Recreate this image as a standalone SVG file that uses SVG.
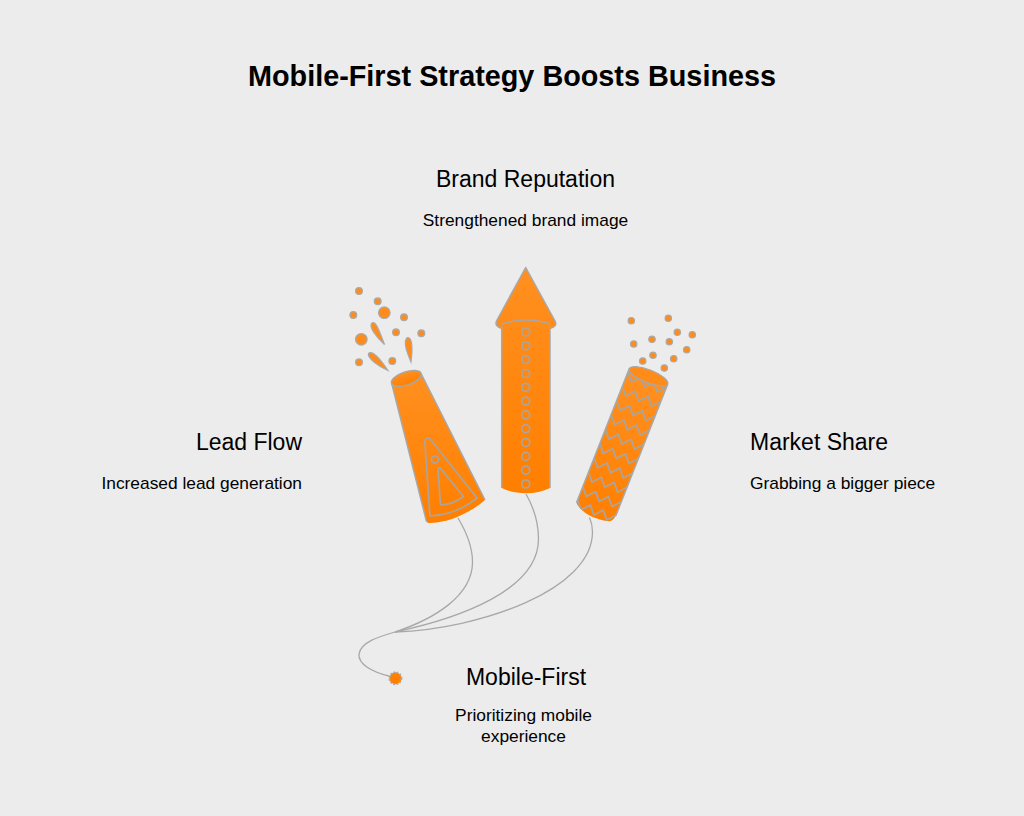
<svg xmlns="http://www.w3.org/2000/svg" xmlns:xlink="http://www.w3.org/1999/xlink" width="1024" height="816" viewBox="0 0 1024 816">
<style>
text{font-family:"Liberation Sans",Arial,sans-serif;fill:#000}
.title{font-size:28.8px;font-weight:700}
.h{font-size:23px}
.s{font-size:17.35px}
.m{text-anchor:middle}
.e{text-anchor:end}
.fill{fill:url(#g);stroke:none}
.fillc{fill:url(#gc);stroke:none}
.line{fill:none;stroke:#aaa59f;stroke-width:1.7;stroke-linejoin:round}
.side{fill:none;stroke:#a8a8a8;stroke-width:1.5;stroke-linejoin:round}
.dot{fill:#ff8c1a;stroke:#aaa;stroke-width:1.2}
.wire{fill:none;stroke:#a8a8a8;stroke-width:1.3}
</style>
<defs>
<linearGradient id="g" x1="0" y1="0" x2="0" y2="1"><stop offset="0" stop-color="#ff9020"/><stop offset="1" stop-color="#ff7f00"/></linearGradient>
<linearGradient id="gc" gradientUnits="userSpaceOnUse" x1="0" y1="267" x2="0" y2="493"><stop offset="0" stop-color="#ff9020"/><stop offset="1" stop-color="#ff7f00"/></linearGradient>
<polyline id="z" class="line" points="-20.7,-4 -13.8,4 -6.9,-4 0,4 6.9,-4 13.8,4 20.7,-4"/>
<clipPath id="rb"><path d="M-20.7 0L20.7 0L20.7 142Q20 149 14 150C0 153 -14 151 -20.7 144Z"/></clipPath>
</defs>
<rect width="1024" height="816" fill="#ececec"/>
<text class="title m" x="512" y="85.5">Mobile-First Strategy Boosts Business</text>
<g id="connectors">
<path class="wire" d="M389 676C372 672 358 664 359 654C361 642 378 637 395 632"/>
<path class="wire" d="M458 518C467 533 472.5 548 472.5 562C472.5 596 434 619 395 632"/>
<path class="wire" d="M526 494C534 508 538.5 524 538.5 539C538.5 590 460 618 395 632"/>
<path class="wire" d="M589.5 517.5C591.5 522 592.5 527 592.5 532C592.5 590 480 629 395 632"/>
</g>
<g id="lead-flow">
<path class="fill" d="M391.7 383.5L421 373.5L485 500C470 513 450 522 431 523Q427 523 426.5 521.5Z"/>
<path class="side" d="M391.7 383.5L426.5 521.5M421 373.5L485 500"/>
<ellipse class="fill" cx="406.3" cy="378.4" rx="15.6" ry="6.6" transform="rotate(-18.5 406.3 378.4)"/>
<ellipse class="side" cx="406.3" cy="378.4" rx="15.6" ry="6.6" transform="rotate(-18.5 406.3 378.4)"/>
<path class="line" d="M425 445C424 438 428 436 431 440L477 498C465 508 448 515 430 516Z"/>
<path class="line" d="M438 469.5C438.5 467.5 440 467.5 441 469L463.5 496.5C456 502 448 505 440.5 505Z"/>
<circle class="line" cx="435" cy="459.5" r="3.5"/>
<path class="dot" d="M384.5 344.5C376 337 369 327 371.5 323.5C375 320 378 327 384.5 344.5Z"/>
<path class="dot" d="M411 362C406 350 403 341 407.5 337.5C412 337 413 347 411 362Z"/>
<path class="dot" d="M388 370.5C378 366 367 358 368.5 353.5C372 350 379 357 388 370.5Z"/>
<circle class="dot" cx="359" cy="291" r="3.4"/><circle class="dot" cx="377.7" cy="301.3" r="3.4"/><circle class="dot" cx="353.3" cy="315" r="3.4"/><circle class="dot" cx="384.3" cy="312.7" r="5.8"/><circle class="dot" cx="404" cy="317.3" r="3.4"/><circle class="dot" cx="396" cy="332.3" r="3.4"/><circle class="dot" cx="421.3" cy="333.3" r="3.4"/><circle class="dot" cx="361.3" cy="339.3" r="5.8"/><circle class="dot" cx="359" cy="362.3" r="3.4"/><circle class="dot" cx="392.3" cy="361" r="3.4"/>
<text class="h e" x="302" y="450">Lead Flow</text>
<text class="s e" x="302" y="489">Increased lead generation</text>
</g>
<g id="brand-reputation">
<path class="fillc" d="M501.7 320L550 320V488C536 495 516 495 501.7 488Z"/>
<path class="side" d="M501.7 324V488M550 324V488"/>
<path class="fillc" d="M525.7 267.5L555 321C557 325 555 328 550 329L550 324Q525.7 316 501.7 324L501.7 329C497 328 495 325 496.5 321Z"/>
<path class="side" d="M501.7 328C497 327 495 325 496.5 321L525.7 267.5L555 321C557 325 555 327 550 328M501.7 324Q525.7 316 550 324"/>
<g class="line">
<circle cx="525.7" cy="332" r="4"/><circle cx="525.7" cy="345.8" r="4"/><circle cx="525.7" cy="359.6" r="4"/><circle cx="525.7" cy="373.5" r="4"/><circle cx="525.7" cy="387.3" r="4"/><circle cx="525.7" cy="401.1" r="4"/><circle cx="525.7" cy="414.9" r="4"/><circle cx="525.7" cy="428.7" r="4"/><circle cx="525.7" cy="442.5" r="4"/><circle cx="525.7" cy="456.4" r="4"/><circle cx="525.7" cy="470.2" r="4"/><circle cx="525.7" cy="484" r="4"/>
</g>
<text class="h m" x="525.5" y="187">Brand Reputation</text>
<text class="s m" x="525.5" y="226">Strengthened brand image</text>
</g>
<g id="market-share">
<g transform="translate(648.5 376.3) rotate(21.5)">
<path class="fill" d="M-20.7 0L20.7 0L20.7 142Q20 149 14 150C0 153 -14 151 -20.7 144Z"/>
<g clip-path="url(#rb)">
<use xlink:href="#z" href="#z" y="7.4"/><use xlink:href="#z" href="#z" y="22.8"/><use xlink:href="#z" href="#z" y="38.2"/><use xlink:href="#z" href="#z" y="53.6"/><use xlink:href="#z" href="#z" y="69"/><use xlink:href="#z" href="#z" y="84.4"/><use xlink:href="#z" href="#z" y="99.8"/><use xlink:href="#z" href="#z" y="115.2"/><use xlink:href="#z" href="#z" y="130.6"/><use xlink:href="#z" href="#z" y="145"/>
</g>
<path class="side" d="M-20.7 0V144M20.7 0V142"/>
<ellipse cx="0" cy="0" rx="20.7" ry="6.5" fill="#ff8c18" stroke="#a8a8a8" stroke-width="1.3"/>
</g>
<circle class="dot" cx="631.3" cy="320.7" r="3.2"/><circle class="dot" cx="668.3" cy="318.3" r="3.2"/><circle class="dot" cx="677.3" cy="332.3" r="3.2"/><circle class="dot" cx="692.3" cy="334.7" r="3.2"/><circle class="dot" cx="633.7" cy="344" r="3.2"/><circle class="dot" cx="652" cy="339.3" r="3.2"/><circle class="dot" cx="669.3" cy="341.7" r="3.2"/><circle class="dot" cx="686.7" cy="349.7" r="3.2"/><circle class="dot" cx="653" cy="355.3" r="3.2"/><circle class="dot" cx="642.7" cy="361" r="3.2"/><circle class="dot" cx="673.7" cy="358.7" r="3.2"/><circle class="dot" cx="664.3" cy="368" r="3.2"/>
<text class="h" x="750" y="450">Market Share</text>
<text class="s" x="750" y="489">Grabbing a bigger piece</text>
</g>
<g id="mobile-first">
<circle cx="395.4" cy="678.3" r="6" fill="#ff8000" stroke="#a8a8a8" stroke-width="2" stroke-dasharray="1.6 1.6"/>
<text class="h m" x="526" y="685">Mobile-First</text>
<text class="s m" x="523.5" y="721">Prioritizing mobile</text>
<text class="s m" x="523.5" y="742">experience</text>
</g>
</svg>
